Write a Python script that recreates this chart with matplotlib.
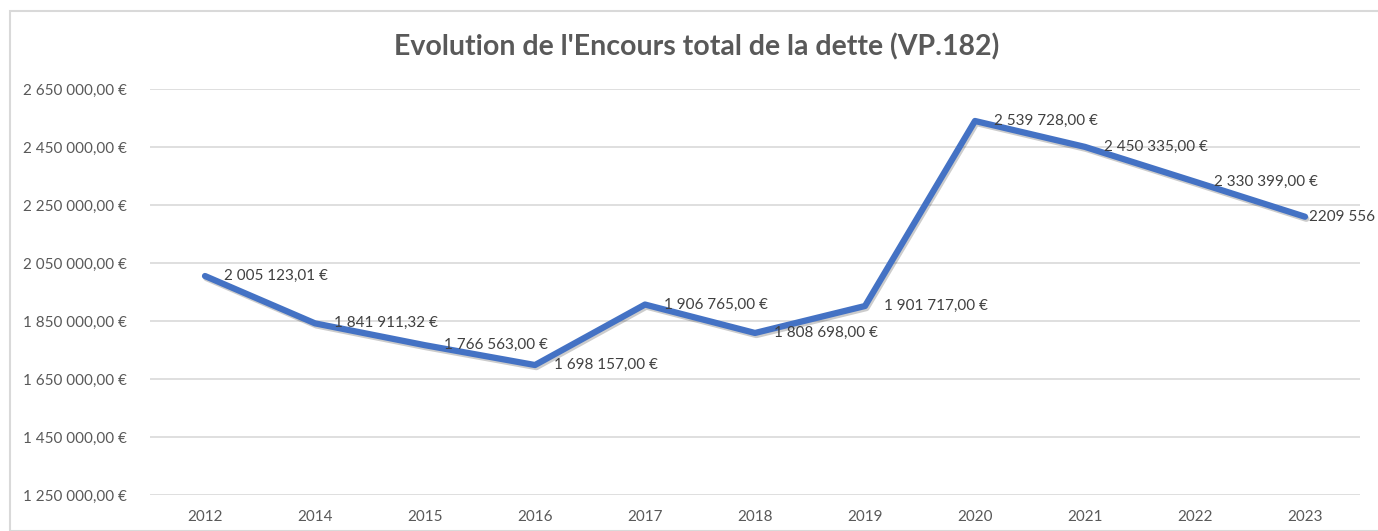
import matplotlib.pyplot as plt
import matplotlib.patheffects as pe
from matplotlib.patches import Rectangle

years = ['2012', '2014', '2015', '2016', '2017', '2018', '2019', '2020', '2021', '2022', '2023']
encours = [2005123.01, 1841911.32, 1766563.00, 1698157.00, 1906765.00, 1808698.00,
           1901717.00, 2539728.00, 2450335.00, 2330399.00, 2209556.00]
labels = ['2 005 123,01 €', '1 841 911,32 €', '1 766 563,00 €', '1 698 157,00 €',
          '1 906 765,00 €', '1 808 698,00 €', '1 901 717,00 €', '2 539 728,00 €',
          '2 450 335,00 €', '2 330 399,00 €', '2209 556']
yticks = [1250000, 1450000, 1650000, 1850000, 2050000, 2250000, 2450000, 2650000]

plt.rcParams['font.family'] = ['Lato', 'DejaVu Sans']

def fmt(v):
    s = f"{v:,.2f}".replace(',', ' ').replace('.', ',')
    return s + ' €'

W, H = 1378, 531
fig = plt.figure(figsize=(W / 100, H / 100), dpi=100)
fig.patches.append(Rectangle((10 / W, 0), 1.2, 1 - 11 / H, transform=fig.transFigure,
                             fill=False, edgecolor='#d9d9d9', linewidth=1.5))

ax = fig.add_axes([150 / W, 1 - 495 / H, (1360 - 150) / W, (495 - 89) / H])
x = list(range(len(years)))
ax.plot(x, encours, color='#4472C4', linewidth=4.5, solid_joinstyle='round',
        solid_capstyle='round', zorder=3,
        path_effects=[pe.SimpleLineShadow(offset=(1, -1.5), alpha=0.2, shadow_color='black'),
                      pe.Normal()])

# last label sits closer to the point (excel pushes it inside the chart)
offsets = [14] * (len(years) - 1) + [3]
for xi, yi, lab, off in zip(x, encours, labels, offsets):
    ax.annotate(lab, (xi, yi), xytext=(off, 0), textcoords='offset points',
                va='center', ha='left', fontsize=11, color='#404040', zorder=4,
                annotation_clip=False)

ax.set_xlim(-0.5, len(years) - 0.5)
ax.set_ylim(1250000, 2650000)
ax.set_yticks(yticks)
ax.set_yticklabels([fmt(v) for v in yticks])
ax.set_xticks(x)
ax.set_xticklabels(years)
ax.grid(axis='y', color='#d9d9d9', linewidth=1.2)
ax.set_axisbelow(True)
for s in ax.spines.values():
    s.set_visible(False)
ax.tick_params(length=0, labelsize=11, labelcolor='#595959')
ax.tick_params(axis='y', pad=17)
ax.tick_params(axis='x', pad=11)

fig.text(697 / W, 1 - 47 / H, "Evolution de l'Encours total de la dette (VP.182)",
         ha='center', va='center', fontsize=20.5, fontweight='bold', color='#595959')

fig.savefig('out.png', dpi=100)
